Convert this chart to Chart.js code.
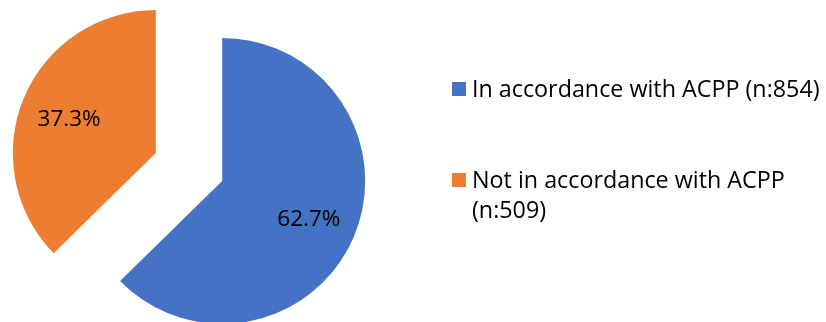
<!DOCTYPE html>
<html>
<head>
<meta charset="utf-8">
<script src="https://cdn.jsdelivr.net/npm/chart.js@4"></script>
<style>
  html, body { margin: 0; padding: 0; background: #ffffff; }
  #wrap { position: relative; width: 826px; height: 322px; }
</style>
</head>
<body>
<div id="wrap"><canvas id="c" width="826" height="322"></canvas></div>
<script>
// ---- data ----
const categories = ['In accordance with ACPP (n:854)', 'Not in accordance with ACPP (n:509)'];
const legendLines = [['In accordance with ACPP (n:854)'], ['Not in accordance with ACPP', '(n:509)']];
const counts = [854, 509];
const colors = ['#4472C4', '#ED7D31'];

// ---- style constants ----
const EXPLODE = 36;       // px each slice is pulled out from the common centre
const LABEL_DIST = 94;    // px from slice vertex to the percentage label
const FONT = '"Open Sans", Lato, sans-serif';

const explodePlugin = {
  id: 'explode',
  beforeDatasetDraw(chart, args) {
    const ctx = chart.ctx;
    args.meta.data.forEach(arc => {
      const mid = (arc.startAngle + arc.endAngle) / 2;
      ctx.save();
      ctx.translate(Math.cos(mid) * EXPLODE, Math.sin(mid) * EXPLODE);
      arc.draw(ctx);
      ctx.restore();
    });
    return false;
  },
  afterDatasetsDraw(chart) {
    const ctx = chart.ctx;
    const meta = chart.getDatasetMeta(0);
    const data = chart.data.datasets[0].data;
    const total = data.reduce((a, b) => a + b, 0);
    ctx.save();
    ctx.fillStyle = '#000000';
    ctx.font = '22.5px ' + FONT;
    ctx.textAlign = 'center';
    ctx.textBaseline = 'alphabetic';
    meta.data.forEach((arc, i) => {
      const mid = (arc.startAngle + arc.endAngle) / 2;
      const d = EXPLODE + LABEL_DIST;
      const x = arc.x + Math.cos(mid) * d;
      const y = arc.y + Math.sin(mid) * d;
      ctx.fillText((data[i] / total * 100).toFixed(1) + '%', x, y + 9);
    });
    ctx.restore();
  },
  afterDraw(chart) {
    const ctx = chart.ctx;
    ctx.save();
    ctx.font = '23.3px ' + FONT;
    ctx.textAlign = 'left';
    ctx.textBaseline = 'alphabetic';
    const itemTops = [82, 173];
    const lineH = 30;
    legendLines.forEach((lines, i) => {
      ctx.fillStyle = colors[i];
      ctx.fillRect(452, itemTops[i], 14, 14);
      ctx.fillStyle = '#000000';
      lines.forEach((t, j) => {
        ctx.fillText(t, 472, itemTops[i] + 15 + j * lineH);
      });
    });
    ctx.restore();
  }
};

new Chart(document.getElementById('c'), {
  type: 'pie',
  data: {
    labels: categories,
    datasets: [{
      data: counts,
      backgroundColor: colors,
      borderWidth: 0,
      radius: 143
    }]
  },
  options: {
    responsive: false,
    maintainAspectRatio: false,
    animation: false,
    layout: { padding: { left: 0, right: 448, top: 12, bottom: 0 } },
    plugins: {
      legend: { display: false },
      tooltip: { enabled: false }
    }
  },
  plugins: [explodePlugin]
});
</script>
</body>
</html>
